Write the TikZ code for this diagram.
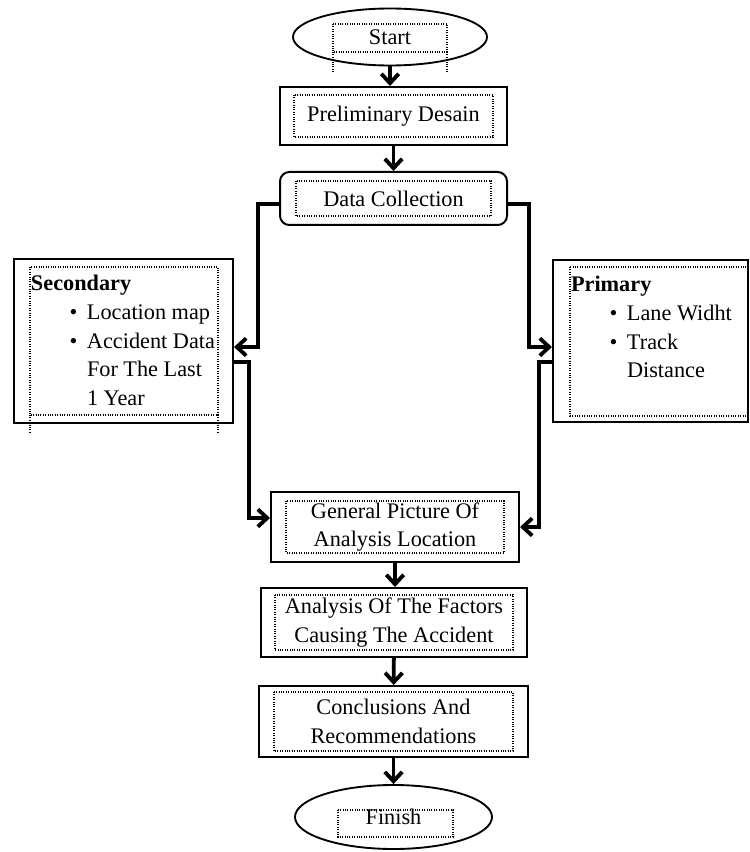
\documentclass[tikz,border=0pt]{standalone}
\usepackage{fontspec}
\setmainfont{Liberation Serif}
\usetikzlibrary{arrows.meta,shapes.geometric}
\newcommand{\itm}[1]{\hspace*{29pt}\makebox[13pt][l]{\textbullet}#1}
\newcommand{\cnt}[1]{\hspace*{42pt}#1}
\begin{document}
\begin{tikzpicture}[x=0.75pt,y=-0.75pt,
    every node/.style={font=\fontsize{16.7}{21.5}\selectfont},
    box/.style={draw,line width=1.5pt,inner sep=0pt,align=center},
    listbox/.style={box,inner xsep=4pt,inner ysep=6.75pt},
    oval/.style={draw,ellipse,line width=1.4pt,inner sep=0pt},
    dotbox/.style={densely dotted,line width=0.8pt},
    flow/.style={line width=2.9pt,-{Straight Barb[length=7pt,width=13pt]}}]
  \useasboundingbox (0,0) rectangle (749,852);
  \node[oval,minimum width=145.5pt,minimum height=42.75pt] (Start) at (390,37) {Start};
  \node[box,minimum width=170.25pt,minimum height=43.5pt] (Prelim) at (393.5,116) {Preliminary Desain};
  \node[box,rounded corners=7pt,minimum width=170.25pt,minimum height=39.75pt] (Collect) at (393.5,198.5) {Data Collection};
  \node[listbox] (Second) at (123.5,341) {\begin{minipage}[c][109.5pt][t]{156.25pt}\leftskip=8.75pt
    \vspace*{2pt}\strut\textbf{Secondary}\\
    \itm{Location map}\\
    \itm{Accident Data}\\
    \cnt{For The Last}\\
    \cnt{1 Year}\end{minipage}};
  \node[listbox] (Primary) at (650.5,341) {\begin{minipage}[c][108pt][t]{138.25pt}\leftskip=9.5pt
    \vspace*{2pt}\strut\textbf{Primary}\\
    \itm{Lane Widht}\\
    \itm{Track}\\
    \cnt{Distance}\end{minipage}};
  \node[box,minimum width=186pt,minimum height=52.5pt] (Picture) at (395,527) {General Picture Of\\Analysis Location};
  \node[box,minimum width=199.5pt,minimum height=51.75pt] (Factors) at (394,622.5) {Analysis Of The Factors\\Causing The Accident};
  \node[box,minimum width=201.75pt,minimum height=53.25pt] (Concl) at (393.5,721.5) {Conclusions And\\Recommendations};
  \node[oval,minimum width=147.75pt,minimum height=48pt] (Finish) at (393.5,817) {Finish};

  \foreach \n/\dx/\dy in {Prelim/15/9, Collect/17/10, Picture/16/10, Factors/15/8, Concl/16/7}
    \draw[dotbox] ([shift={(\dx,\dy)}]\n.north west) rectangle ([shift={(-\dx,-\dy)}]\n.south east);
  \draw[dotbox] ([shift={(17,9)}]Second.north west) rectangle ([shift={(-16,-9)}]Second.south east)
    ([shift={(17,-9)}]Second.south west) -- ++(0,18) ([shift={(-16,-9)}]Second.south east) -- ++(0,18);
  \draw[dotbox] ([shift={(18,8)}]Primary.north west) rectangle ([shift={(-1,-7)}]Primary.south east);
  \draw[dotbox] ([shift={(-57,-13)}]Start.center) rectangle ([shift={(57,15)}]Start.center)
    ([shift={(-57,15)}]Start.center) -- ++(0,20) ([shift={(57,15)}]Start.center) -- ++(0,20);
  \draw[dotbox] ([shift={(-55.5,-7)}]Finish.center) rectangle ([shift={(59.5,20)}]Finish.center);

  \draw[flow] (Start.south) -- (Start.south |- Prelim.north);
  \draw[flow] (Prelim) -- (Collect);
  \draw[flow] ([yshift=-4pt]Collect.west) -| ([xshift=18pt,yshift=-4.5pt]Second.east) -- ([yshift=-4.5pt]Second.east);
  \draw[flow] ([yshift=-4pt]Collect.east) -| ([xshift=-17.25pt,yshift=-4.5pt]Primary.west) -- ([yshift=-4.5pt]Primary.west);
  \draw[flow] ([yshift=-15.75pt]Second.east) -| ([xshift=-15.75pt,yshift=6.75pt]Picture.west) -- ([yshift=6.75pt]Picture.west);
  \draw[flow] ([yshift=-15.75pt]Primary.west) -| ([xshift=14.25pt]Picture.east) -- (Picture.east);
  \draw[flow] (Picture.south) -- (Picture.south |- Factors.north);
  \draw[flow] (Factors) -- (Concl);
  \draw[flow] (Concl.south) -- (Concl.south |- Finish.north);
\end{tikzpicture}
\end{document}
